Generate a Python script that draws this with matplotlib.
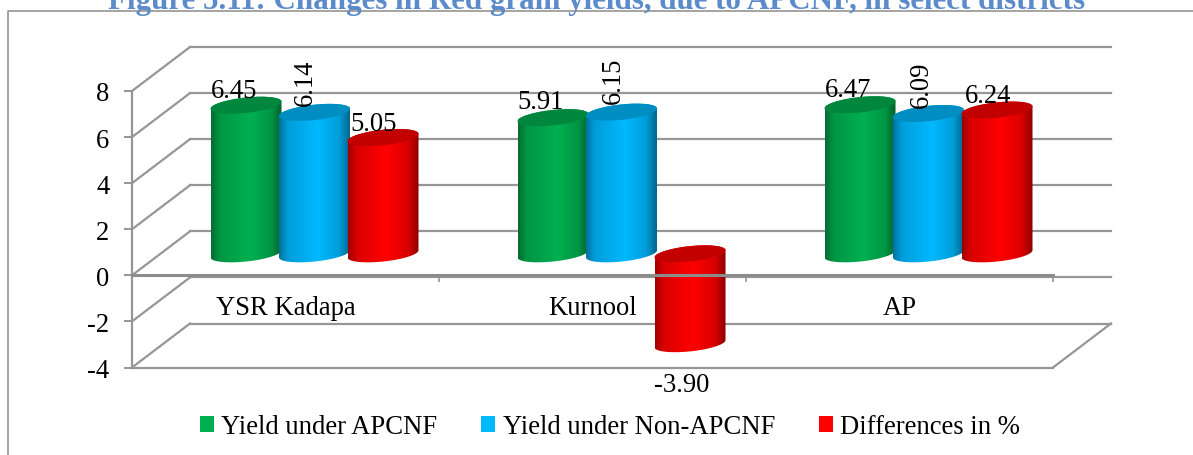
import numpy as np
import matplotlib
matplotlib.use('Agg')
import matplotlib.pyplot as plt
from matplotlib.colors import LinearSegmentedColormap, to_rgb
from matplotlib.lines import Line2D
from matplotlib.patches import Patch, PathPatch
from matplotlib.path import Path
from matplotlib.transforms import Affine2D

title = 'Figure 5.11: Changes in Red gram yields, due to APCNF, in select districts'
districts = ['YSR Kadapa', 'Kurnool', 'AP']
yield_apcnf = [6.45, 5.91, 6.47]
yield_non_apcnf = [6.14, 6.15, 6.09]
differences = [5.05, -3.90, 6.24]
series_names = ['Yield under APCNF', 'Yield under Non-APCNF', 'Differences in %']
y_ticks = [-4, -2, 0, 2, 4, 6, 8]

W, H = 1193, 456
colors = ['#00B050', '#00B9FF', '#FF0000']
grid_col = '#969696'
plt.rcParams['font.family'] = ['Liberation Serif', 'DejaVu Serif']

fig = plt.figure(figsize=(W / 100, H / 100), dpi=100)
ax = fig.add_axes([132 / W, (H - 368.5) / H, 921 / W, 276.5 / H])
ax.patch.set_alpha(0)
ax.set_xlim(0, 3)
ax.set_ylim(-4, 8)
px_x = 921 / 3
px_y = 276.5 / 12

# chart frame, only top and left show up in the crop
fig.add_artist(Line2D([1, 8 / W, 8 / W], [1 - 11.5 / H, 1 - 11.5 / H, 0],
                      color='#8c8c8c', lw=1.1))
fig.text(597 / W, 1 - 9 / H, title, ha='center', va='baseline', color='#5B8BCB',
         fontsize=22.3, fontweight='bold')

# back wall and side wall, shifted from the front plane
back = ax.transData + Affine2D().translate(58, 44)
mid = ax.transData + Affine2D().translate(29, 21.5)
for v in y_ticks:
    ax.plot([0, 3], [v, v], color=grid_col, lw=1.6, transform=back, clip_on=False, zorder=1)
    ax.plot([0, 58 / px_x], [v, v + 44 / px_y], color=grid_col, lw=1.6, clip_on=False, zorder=1)
ax.plot([0, 3], [-4, -4], color=grid_col, lw=1.6, clip_on=False, zorder=1)
ax.plot([3, 3 + 58 / px_x], [-4, -4 + 44 / px_y], color=grid_col, lw=1.6, clip_on=False, zorder=1)


def cylinder(xc, val, color, order):
    half = 35.5 / px_x
    b, tilt = 7.7 / px_y, 3.6 / px_y
    rgb = np.array(to_rgb(color))
    t = np.linspace(0, np.pi, 60)
    hi, lo = (val, 0) if val > 0 else (0, val)
    # upper half of the top rim, lower half of the bottom rim
    top_x = xc + half * np.cos(t)
    top_y = hi + b * np.sin(t) + tilt * np.cos(t)
    low_x = xc - half * np.cos(t)
    low_y = lo - b * np.sin(t) - tilt * np.cos(t)
    body = PathPatch(Path(np.c_[np.r_[top_x, low_x], np.r_[top_y, low_y]]),
                     transform=mid, fc='none', ec='none')
    ax.add_patch(body)
    shade = LinearSegmentedColormap.from_list('s', [
        (0.0, rgb * 0.62),
        (0.12, rgb * 0.85),
        (0.55, rgb),
        (0.85, rgb * 0.85),
        (1.0, rgb * 0.55)])
    im = ax.imshow(np.linspace(0, 1, 128)[None, :], cmap=shade, aspect='auto',
                   extent=(xc - half, xc + half, lo - 1, hi + 1), transform=mid, zorder=order)
    im.set_clip_path(body)
    # top cap
    t2 = np.linspace(0, 2 * np.pi, 120)
    ax.fill(xc + half * np.cos(t2), hi + b * np.sin(t2) + tilt * np.cos(t2),
            color=rgb * 0.76, lw=0, transform=mid, clip_on=False, zorder=order + 0.1)


all_series = [yield_apcnf, yield_non_apcnf, differences]
step = 68.5 / px_x
order = 3
for i in range(len(districts)):
    for s, vals in enumerate(all_series):
        cylinder(i + 0.5 + (s - 1) * step, vals[i], colors[s], order)
        order += 1
ax.set_xlim(0, 3)
ax.set_ylim(-4, 8)

# label placement: pixel nudges from the bar centre top, and rotation
nudges = [[(-12, 15), (-9, 31), (-9, 14)],
          [(-12, 16), (-8, 32), (-8, -41)],
          [(-12, 15), (-7, 30), (-9, 15)]]
turned = [[0, 90, 0], [0, 90, 0], [0, 90, 0]]
for i in range(len(districts)):
    for s, vals in enumerate(all_series):
        xc = i + 0.5 + (s - 1) * step
        ax.annotate('%.2f' % vals[i], (xc, vals[i]), xycoords=mid,
                    xytext=(nudges[i][s][0] * 0.72, nudges[i][s][1] * 0.72),
                    textcoords='offset points', ha='center', va='center',
                    rotation=turned[i][s], fontsize=19.2, color='black', zorder=40,
                    annotation_clip=False)

# axes
for side in ['top', 'right']:
    ax.spines[side].set_visible(False)
ax.spines['bottom'].set_position(('data', 0))
ax.spines['bottom'].set_color('#8c8c8c')
ax.spines['bottom'].set_linewidth(2.2)
ax.spines['bottom'].set_zorder(30)
ax.spines['left'].set_color(grid_col)
ax.spines['left'].set_linewidth(1.6)
ax.set_yticks(y_ticks)
ax.set_yticklabels([str(v) for v in y_ticks])
ax.tick_params(axis='y', length=5.8, width=1.4, color=grid_col, labelsize=19.2, pad=10.5)
ax.set_xticks([0, 1, 2, 3])
ax.set_xticklabels([])
ax.set_xticks([0.5, 1.5, 2.5], minor=True)
ax.set_xticklabels(districts, minor=True)
ax.tick_params(axis='x', which='major', length=5, width=1.2, color=grid_col, direction='out')
ax.tick_params(axis='x', which='minor', length=0, labelsize=19.2, pad=14)

handles = [Patch(fc=c, ec='none', label=n) for c, n in zip(colors, series_names)]
fig.legend(handles=handles, loc='center', bbox_to_anchor=(610 / W, 1 - 428 / H), ncol=3,
           frameon=False, fontsize=19.2, handlelength=0.52, handleheight=0.52,
           handletextpad=0.28, columnspacing=1.65)

fig.savefig('out.png', dpi=100)
